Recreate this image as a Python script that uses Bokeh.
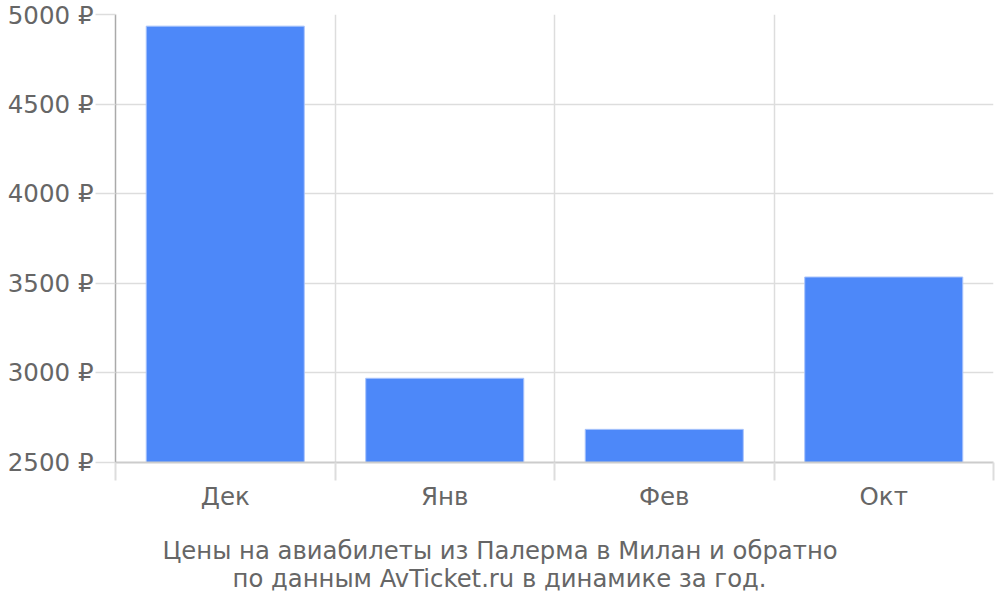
from bokeh.plotting import figure
from bokeh.models import FixedTicker, PrintfTickFormatter, Range1d, Title
from bokeh.embed import file_html
from bokeh.resources import INLINE

categories = ["Дек", "Янв", "Фев", "Окт"]
prices = [4935, 2970, 2685, 3535]
y_ticks = [2500, 3000, 3500, 4000, 4500, 5000]
caption_lines = ["Цены на авиабилеты из Палерма в Милан и обратно",
                 "по данным AvTicket.ru в динамике за год."]
caption_offsets = [47, 117]
caption_standoffs = [20, -26]

FONT = "DejaVu Sans"
TEXT = "#666666"
GRID = "#dddddd"
FS = "24.5px"

n = len(categories)
centers = [i + 0.5 for i in range(n)]
bounds = list(range(n + 1))

p = figure(width=996, height=600, output_backend="svg", toolbar_location=None,
           x_range=Range1d(0, n), y_range=Range1d(y_ticks[0], y_ticks[-1]),
           min_border_left=115, min_border_right=3, min_border_top=14,
           min_border_bottom=138)
p.outline_line_color = None

p.vbar(x=centers, top=prices, bottom=y_ticks[0], width=0.72,
       fill_color="#4d88f9", line_color="#a9c4fb", line_width=1)

# x axis
p.xaxis.ticker = FixedTicker(ticks=centers, minor_ticks=bounds)
p.xaxis.major_label_overrides = {c: lab for c, lab in zip(centers, categories)}
p.xaxis.major_tick_line_color = None
p.xaxis.minor_tick_in = 0
p.xaxis.minor_tick_out = 18
p.xaxis.minor_tick_line_color = GRID
p.xaxis.minor_tick_line_width = 2
p.xaxis.axis_line_color = "#cccccc"
p.xaxis.axis_line_width = 2
p.xaxis.major_label_text_font = FONT
p.xaxis.major_label_text_font_size = FS
p.xaxis.major_label_text_color = TEXT
p.xaxis.major_label_standoff = 1
p.xaxis.axis_label = " "
p.xaxis.axis_label_text_font_size = "1px"
p.xaxis.axis_label_standoff = 6
p.xgrid.ticker = FixedTicker(ticks=bounds)
p.xgrid.grid_line_color = GRID
p.xgrid.grid_line_width = 1.5

# y axis
p.yaxis.ticker = FixedTicker(ticks=y_ticks)
p.yaxis.formatter = PrintfTickFormatter(format="%d ₽")
p.yaxis.axis_line_color = "#aaaaaa"
p.yaxis.axis_line_width = 1.5
p.yaxis.major_tick_in = 0
p.yaxis.major_tick_out = 20
p.yaxis.major_tick_line_color = GRID
p.yaxis.major_tick_line_width = 1.5
p.yaxis.minor_tick_line_color = None
p.yaxis.major_label_text_font = FONT
p.yaxis.major_label_text_font_size = FS
p.yaxis.major_label_text_color = TEXT
p.yaxis.major_label_standoff = 2
p.ygrid.grid_line_color = GRID
p.ygrid.grid_line_width = 1.5

# caption below
for line, off, so in zip(caption_lines, caption_offsets, caption_standoffs):
    p.add_layout(Title(text=line, align="left", offset=off, standoff=so,
                       text_font=FONT, text_font_size="24.3px",
                       text_font_style="normal", text_color=TEXT), "below")

open("out.html", "w").write(file_html(p, INLINE))
